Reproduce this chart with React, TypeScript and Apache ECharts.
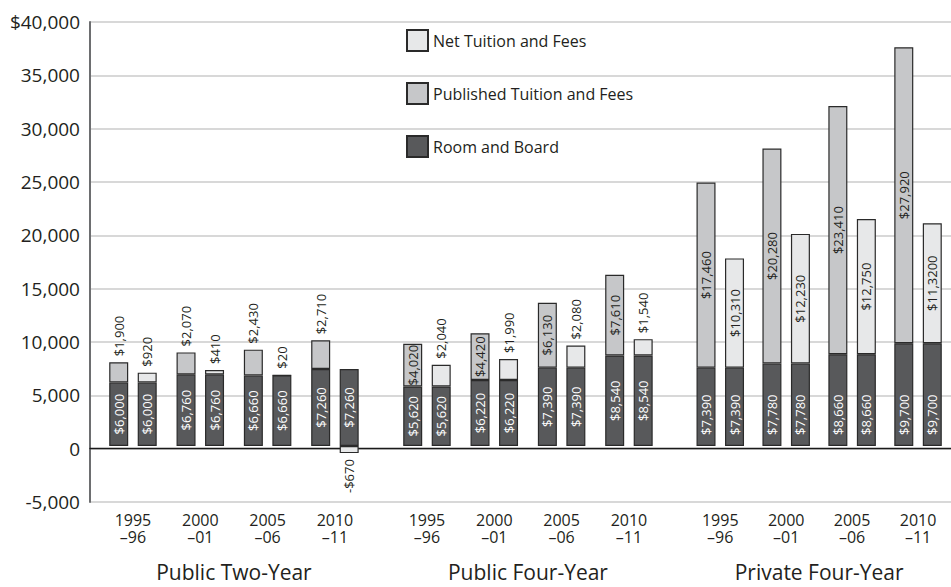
import React, { useEffect, useRef } from 'react';
import * as echarts from 'echarts';

const years = ['1995\n–96', '2000\n–01', '2005\n–06', '2010\n–11'];
const groups = ['Public Two-Year', 'Public Four-Year', 'Private Four-Year'];

const roomBoardTwoYear = [6000, 6760, 6660, 7260];
const roomBoardFourYear = [5620, 6220, 7390, 8540];
const roomBoardPrivate = [7390, 7780, 8660, 9700];

const publishedTwoYear = [1900, 2070, 2430, 2710];
const publishedFourYear = [4020, 4420, 6130, 7610];
const publishedPrivate = [17460, 20280, 23410, 27920];

const netTwoYear = [920, 410, 20, -670];
const netFourYear = [2040, 1990, 2080, 1540];
const netPrivate = [10310, 12230, 12750, 11320];
// label text as printed in the original (last one carries its typo)
const netPrivateLabels = ['$10,310', '$12,230', '$12,750', '$11,3200'];

const yMin = -5000;
const yMax = 40000;
const yInterval = 5000;

const roomBoard = [roomBoardTwoYear, roomBoardFourYear, roomBoardPrivate];
const published = [publishedTwoYear, publishedFourYear, publishedPrivate];
const net = [netTwoYear, netFourYear, netPrivate];

const FONT = '"Open Sans", "Noto Sans", sans-serif';
const TEXT = '#231f20';
const DARK = '#58595b';
const PUB = '#c6c7c9';
const NET = '#e7e8e9';
const BORDER = '#2a2a2a';

const fmtMoney = (v: number) =>
  (v < 0 ? '-' : '') + '$' + Math.abs(v).toLocaleString('en-US');

function tuitionLabel(v: number) {
  if (Math.abs(v) >= 3500) return { position: 'inside', align: 'center' };
  if (v < 0) return { position: 'bottom', align: 'right', distance: 6 };
  return { position: 'top', align: 'left', distance: 6 };
}

export default function App() {
  const ref = useRef<HTMLDivElement>(null);
  useEffect(() => {
    if (!ref.current) return;
    const chart = echarts.init(ref.current, undefined, { renderer: 'svg' });

    const GRID_TOP = 22;
    const GRID_H = 480;
    const groupLeft = [99.3, 393.3, 687.3];
    const groupWidth = 269.3;

    const grids: any[] = [{ left: 90, right: 0, top: GRID_TOP, height: GRID_H }];
    groupLeft.forEach((l) => grids.push({ left: l, width: groupWidth, top: GRID_TOP, height: GRID_H }));

    const xAxes: any[] = [
      {
        gridIndex: 0,
        type: 'value',
        min: 0,
        max: 1,
        axisLabel: { show: false },
        axisTick: { show: false },
        splitLine: { show: false },
        axisLine: { show: true, onZero: true, lineStyle: { color: '#1a1a1a', width: 1.3 } },
      },
    ];
    const yAxes: any[] = [
      {
        gridIndex: 0,
        type: 'value',
        min: yMin,
        max: yMax,
        interval: yInterval,
        axisLine: { show: true, lineStyle: { color: '#6d6e70', width: 2 } },
        axisTick: { show: false },
        axisLabel: {
          fontSize: 19,
          fontFamily: FONT,
          color: TEXT,
          margin: 10,
          formatter: (v: number) => (v === yMax ? '$' : '') + v.toLocaleString('en-US'),
        },
        splitLine: { show: true, lineStyle: { color: '#cbcbcb', width: 1.5 } },
      },
    ];

    const series: any[] = [];
    groups.forEach((gname, g) => {
      const gi = g + 1;
      xAxes.push({
        gridIndex: gi,
        type: 'category',
        data: years,
        axisLine: { show: false, onZero: false },
        axisTick: { show: false },
        axisLabel: { fontSize: 16, lineHeight: 17, fontFamily: FONT, color: TEXT, margin: 12 },
        name: gname,
        nameLocation: 'middle',
        nameGap: 62,
        nameTextStyle: { fontSize: 21, fontFamily: FONT, color: TEXT },
      });
      yAxes.push({ gridIndex: gi, type: 'value', min: yMin, max: yMax, interval: yInterval, show: false });

      const baseLabel = {
        show: true,
        rotate: 90,
        fontSize: 13,
        fontFamily: FONT,
        color: TEXT,
        verticalAlign: 'middle',
        formatter: (p: any) => fmtMoney(p.value),
      };
      const darkLabel =
        g < 2
          ? { ...baseLabel, color: '#ffffff', position: 'inside', align: 'center' }
          : { ...baseLabel, color: '#ffffff', position: 'insideBottom', align: 'left', distance: 11 };
      const common = {
        type: 'bar',
        xAxisIndex: gi,
        yAxisIndex: gi,
        barWidth: 19,
        barGap: '50%',
      };

      series.push({
        ...common,
        name: 'Room and Board',
        stack: 'pub' + g,
        data: roomBoard[g],
        itemStyle: { color: DARK, borderColor: BORDER, borderWidth: 1.2 },
        label: darkLabel,
      });
      series.push({
        ...common,
        name: 'Published Tuition and Fees',
        stack: 'pub' + g,
        data: published[g].map((v) => ({ value: v, label: tuitionLabel(v) })),
        itemStyle: { color: PUB, borderColor: BORDER, borderWidth: 1.2 },
        label: baseLabel,
      });
      series.push({
        ...common,
        name: 'Room and Board',
        stack: 'net' + g,
        data: roomBoard[g],
        itemStyle: { color: DARK, borderColor: BORDER, borderWidth: 1.2 },
        label: darkLabel,
      });
      series.push({
        ...common,
        name: 'Net Tuition and Fees',
        stack: 'net' + g,
        data: net[g].map((v, i) => {
          const lab: any = tuitionLabel(v);
          if (g === 2) lab.formatter = netPrivateLabels[i];
          return { value: v, label: lab };
        }),
        itemStyle: { color: NET, borderColor: BORDER, borderWidth: 1.2 },
        label: baseLabel,
      });
    });

    chart.setOption({
      animation: false,
      textStyle: { fontFamily: FONT },
      grid: grids,
      xAxis: xAxes,
      yAxis: yAxes,
      legend: {
        orient: 'vertical',
        left: 401,
        top: 24,
        itemWidth: 21,
        itemHeight: 21,
        itemGap: 30,
        icon: 'rect',
        selectedMode: false,
        data: ['Net Tuition and Fees', 'Published Tuition and Fees', 'Room and Board'],
        textStyle: { fontSize: 16, fontFamily: FONT, color: TEXT },
      },
      series,
    });
    return () => chart.dispose();
  }, []);

  return (
    <div
      ref={ref}
      style={{ position: 'fixed', left: 0, top: 0, width: 951, height: 587, background: '#fff' }}
    />
  );
}
